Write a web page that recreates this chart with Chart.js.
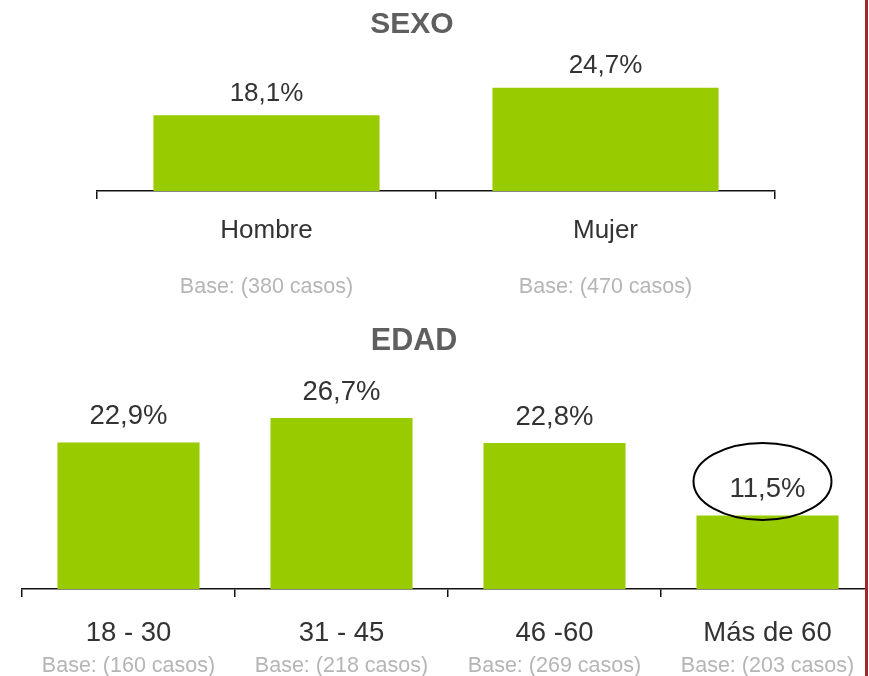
<!DOCTYPE html>
<html><head><meta charset="utf-8">
<script src="https://cdn.jsdelivr.net/npm/chart.js@4"></script>
<style>
html,body{margin:0;padding:0;background:#fff;width:869px;height:676px;overflow:hidden;}
#w1{position:absolute;left:0;top:0;width:869px;height:320px;}
#w2{position:absolute;left:0;top:320px;width:866px;height:356px;overflow:hidden;}
#redline{position:absolute;left:865px;top:0;width:3px;height:676px;background:#a3282a;}
canvas{display:block;}
</style></head><body>
<div id="w1"><canvas id="c1" width="869" height="320"></canvas></div>
<div id="w2"><canvas id="c2" width="880" height="356"></canvas></div>
<div id="redline"></div>
<script>
const sexoTitle = 'SEXO';
const sexoCategories = ['Hombre', 'Mujer'];
const sexoValues = [18.1, 24.7];
const sexoBases = ['Base: (380 casos)', 'Base: (470 casos)'];

const edadTitle = 'EDAD';
const edadCategories = ['18 - 30', '31 - 45', '46 -60', 'Más de 60'];
const edadValues = [22.9, 26.7, 22.8, 11.5];
const edadBases = ['Base: (160 casos)', 'Base: (218 casos)', 'Base: (269 casos)', 'Base: (203 casos)'];
const edadHighlighted = 'Más de 60';

const FONT = '"Liberation Sans", Arial, Helvetica, sans-serif';
const fmt = v => v.toFixed(1).replace('.', ',') + '%';

const decor = {
  id: 'decor',
  afterDatasetsDraw(chart, args, o) {
    const ctx = chart.ctx;
    const meta = chart.getDatasetMeta(0);
    const data = chart.data.datasets[0].data;
    ctx.save();
    ctx.textAlign = 'center';
    ctx.textBaseline = 'alphabetic';
    ctx.fillStyle = '#333333';
    ctx.font = o.valueSize + 'px ' + FONT;
    meta.data.forEach((bar, i) => {
      ctx.fillText(fmt(data[i]), bar.x, bar.y - o.valueGap);
    });
    ctx.fillStyle = '#5f5f5f';
    ctx.font = 'bold ' + o.titleSize + 'px ' + FONT;
    ctx.fillText(o.title, o.titleX, o.titleY);
    if (o.highlight >= 0) {
      const bar = meta.data[o.highlight];
      ctx.beginPath();
      ctx.ellipse(bar.x - 5, bar.y - 34, 69, 38.5, 0, 0, Math.PI * 2);
      ctx.lineWidth = 2;
      ctx.strokeStyle = '#000';
      ctx.stroke();
    }
    ctx.restore();
  }
};

function makeChart(canvas, cats, vals, bases, o) {
  return new Chart(canvas, {
    type: 'bar',
    data: {
      labels: cats,
      datasets: [{
        data: vals,
        backgroundColor: '#99cc00',
        borderWidth: 0,
        barPercentage: 0.667,
        categoryPercentage: 1
      }]
    },
    options: {
      responsive: false,
      animation: false,
      devicePixelRatio: 1,
      layout: { padding: o.padding },
      plugins: {
        legend: { display: false },
        tooltip: { enabled: false },
        title: { display: false },
        decor: {
          valueSize: o.valueSize, valueGap: o.valueGap,
          title: o.title, titleSize: o.titleSize, titleX: o.titleX, titleY: o.titleY,
          highlight: o.highlight
        }
      },
      scales: {
        y: { display: false, min: 0, max: 30 },
        x: {
          weight: 0,
          offset: true,
          grid: { display: true, offset: true, drawOnChartArea: false, drawTicks: true, tickLength: 8, color: '#111', lineWidth: 1.5 },
          border: { display: true, color: '#111', width: 1.5 },
          ticks: { color: '#333333', font: { family: FONT, size: o.catSize }, padding: o.catPad, maxRotation: 0, autoSkip: false },
          afterFit: s => { s.height = o.xH; }
        },
        x2: {
          type: 'category',
          labels: bases,
          position: 'bottom',
          weight: 1,
          offset: true,
          grid: { display: false },
          border: { display: false },
          ticks: { color: '#b5b5b5', font: { family: FONT, size: 21.5, lineHeight: o.baseLH }, padding: o.basePad, maxRotation: 0, autoSkip: false },
          afterFit: s => { s.height = o.x2H; }
        }
      }
    },
    plugins: [decor]
  });
}

makeChart(document.getElementById('c1'), sexoCategories, sexoValues, sexoBases, {
  padding: { left: 97, right: 94, top: 65.6, bottom: 4 },
  xH: 75, x2H: 50, catSize: 26, catPad: 16.5, basePad: 0, baseLH: 1.2,
  valueSize: 26, valueGap: 14.5,
  title: sexoTitle, titleSize: 30, titleX: 412, titleY: 33,
  highlight: -1
});

makeChart(document.getElementById('c2'), edadCategories, edadValues, edadBases, {
  padding: { left: 22, right: 6, top: 77, bottom: 0 },
  xH: 62, x2H: 25, catSize: 27.5, catPad: 20, basePad: 0.5, baseLH: 0.6,
  valueSize: 27.5, valueGap: 18,
  title: edadTitle, titleSize: 30.5, titleX: 414, titleY: 30,
  highlight: edadCategories.indexOf(edadHighlighted)
});
</script>
</body></html>
